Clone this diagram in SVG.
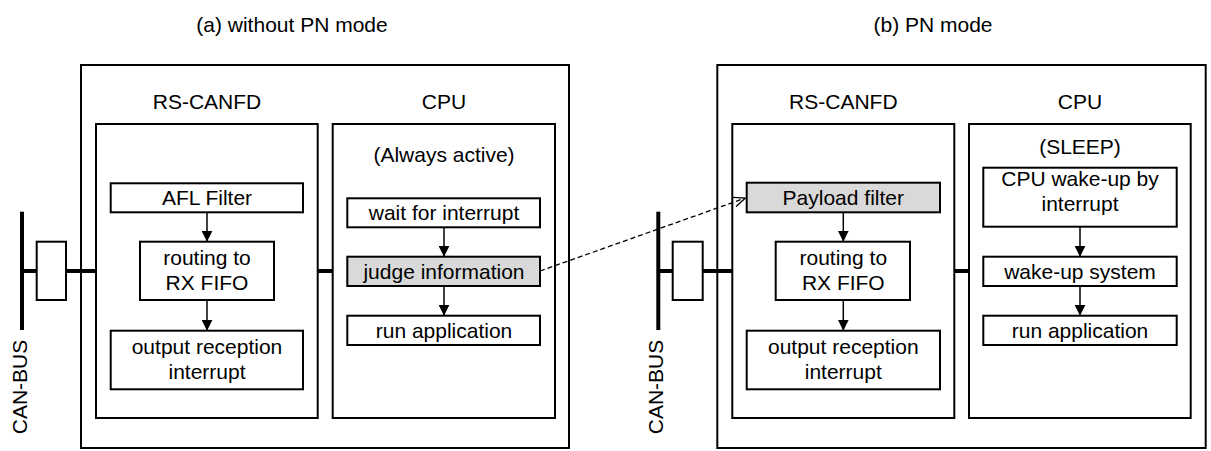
<svg xmlns="http://www.w3.org/2000/svg" width="1211" height="451" viewBox="0 0 1211 451">
<defs>
<style>
.box{fill:#fff;stroke:#000;stroke-width:2}
.hl{fill:#d9d9d9;stroke:#000;stroke-width:2}
.t{font-family:"Liberation Sans",Arial,sans-serif;font-size:21px;fill:#000;text-anchor:middle}
.bus{stroke:#000;stroke-width:4;fill:none}
.arr{stroke:#000;stroke-width:1.5;fill:none;marker-end:url(#ah)}
.dash{stroke:#000;stroke-width:1.3;fill:none;stroke-dasharray:5 3;marker-end:url(#oh)}
</style>
<marker id="ah" viewBox="0 0 10 10" refX="10" refY="5" markerWidth="11" markerHeight="11" markerUnits="userSpaceOnUse" orient="auto">
<path d="M0,0 L10,5 L0,10 Z" fill="#000"/>
</marker>
<marker id="oh" viewBox="0 0 12 12" refX="12" refY="6" markerWidth="12" markerHeight="12" markerUnits="userSpaceOnUse" orient="auto">
<path d="M0,1 L12,6 L0,11" fill="none" stroke="#000" stroke-width="1.3"/>
</marker>
</defs>
<rect width="1211" height="451" fill="#fff"/>

<text class="t" x="292" y="32">(a) without PN mode</text>
<text class="t" x="933" y="32">(b) PN mode</text>

<g id="left-ecu">
<rect class="box" x="81" y="65" width="488" height="383"/>
</g>
<g id="left-rscanfd">
<rect class="box" x="96" y="124" width="221.7" height="294"/>
<text class="t" x="207" y="109">RS-CANFD</text>
</g>
<g id="left-cpu">
<rect class="box" x="332.7" y="124" width="222.3" height="294"/>
<text class="t" x="444" y="109">CPU</text>
<text class="t" x="444" y="162">(Always active)</text>
</g>
<g id="left-afl"><rect class="box" x="110.7" y="183.3" width="192.3" height="29"/><text class="t" x="207" y="205">AFL Filter</text></g>
<g id="left-routing"><rect class="box" x="140" y="241.7" width="134" height="58.3"/><text class="t" x="207" y="265">routing to</text><text class="t" x="207" y="290">RX FIFO</text></g>
<g id="left-output"><rect class="box" x="110.7" y="330.7" width="192.3" height="58.6"/><text class="t" x="207" y="354">output reception</text><text class="t" x="207" y="379">interrupt</text></g>
<g id="left-wait"><rect class="box" x="347.3" y="198.3" width="192.7" height="29"/><text class="t" x="444" y="220">wait for interrupt</text></g>
<g id="left-judge"><rect class="hl" x="347.3" y="256.7" width="192.7" height="29.3"/><text class="t" x="444" y="279">judge information</text></g>
<g id="left-run"><rect class="box" x="347.3" y="315.7" width="192.7" height="29.3"/><text class="t" x="444" y="338">run application</text></g>
<g id="left-transceiver"><rect class="box" x="36.7" y="241.7" width="29.3" height="58.3"/></g>
<g id="left-canbus"><text class="t" transform="translate(27,387) rotate(-90)">CAN-BUS</text></g>

<g id="right-ecu">
<rect class="box" x="717.3" y="65" width="488.4" height="383"/>
</g>
<g id="right-rscanfd">
<rect class="box" x="732.3" y="124" width="222" height="294"/>
<text class="t" x="843.3" y="109">RS-CANFD</text>
</g>
<g id="right-cpu">
<rect class="box" x="969" y="124" width="221.7" height="294"/>
<text class="t" x="1080" y="109">CPU</text>
<text class="t" x="1080" y="154">(SLEEP)</text>
</g>
<g id="right-payload"><rect class="hl" x="746.7" y="182.7" width="193.3" height="29.6"/><text class="t" x="843.3" y="205">Payload filter</text></g>
<g id="right-routing"><rect class="box" x="775.7" y="241.7" width="134.3" height="58.3"/><text class="t" x="843.3" y="265">routing to</text><text class="t" x="843.3" y="290">RX FIFO</text></g>
<g id="right-output"><rect class="box" x="746.7" y="330.7" width="193.3" height="58.6"/><text class="t" x="843.3" y="354">output reception</text><text class="t" x="843.3" y="379">interrupt</text></g>
<g id="right-wake"><rect class="box" x="983.3" y="167.7" width="193.4" height="59"/><text class="t" x="1080" y="186">CPU wake-up by</text><text class="t" x="1080" y="211">interrupt</text></g>
<g id="right-system"><rect class="box" x="983.3" y="256.7" width="193.4" height="29.3"/><text class="t" x="1080" y="279">wake-up system</text></g>
<g id="right-run"><rect class="box" x="983.3" y="315.7" width="193.4" height="29.3"/><text class="t" x="1080" y="338">run application</text></g>
<g id="right-transceiver"><rect class="box" x="672.7" y="241.7" width="30" height="58.3"/></g>
<g id="right-canbus"><text class="t" transform="translate(663,387) rotate(-90)">CAN-BUS</text></g>

<g id="connectors">
<line class="bus" x1="22" y1="211.7" x2="22" y2="330"/>
<line class="bus" x1="22" y1="271" x2="36.7" y2="271"/>
<line class="bus" x1="66" y1="271" x2="96" y2="271"/>
<line class="bus" x1="317.7" y1="271" x2="332.7" y2="271"/>
<line class="arr" x1="207" y1="212.3" x2="207" y2="241.7"/>
<line class="arr" x1="207" y1="300" x2="207" y2="330.7"/>
<line class="arr" x1="444" y1="227.3" x2="444" y2="256.7"/>
<line class="arr" x1="444" y1="286" x2="444" y2="315.7"/>
<line class="bus" x1="658.3" y1="211.7" x2="658.3" y2="330"/>
<line class="bus" x1="658.3" y1="271" x2="672.7" y2="271"/>
<line class="bus" x1="702.7" y1="271" x2="732.3" y2="271"/>
<line class="bus" x1="954.3" y1="271" x2="969" y2="271"/>
<line class="arr" x1="843.3" y1="212.3" x2="843.3" y2="241.7"/>
<line class="arr" x1="843.3" y1="300" x2="843.3" y2="330.7"/>
<line class="arr" x1="1080" y1="226.7" x2="1080" y2="256.7"/>
<line class="arr" x1="1080" y1="286" x2="1080" y2="315.7"/>
<line class="dash" x1="540" y1="271" x2="745.5" y2="198"/>
</g>
</svg>
